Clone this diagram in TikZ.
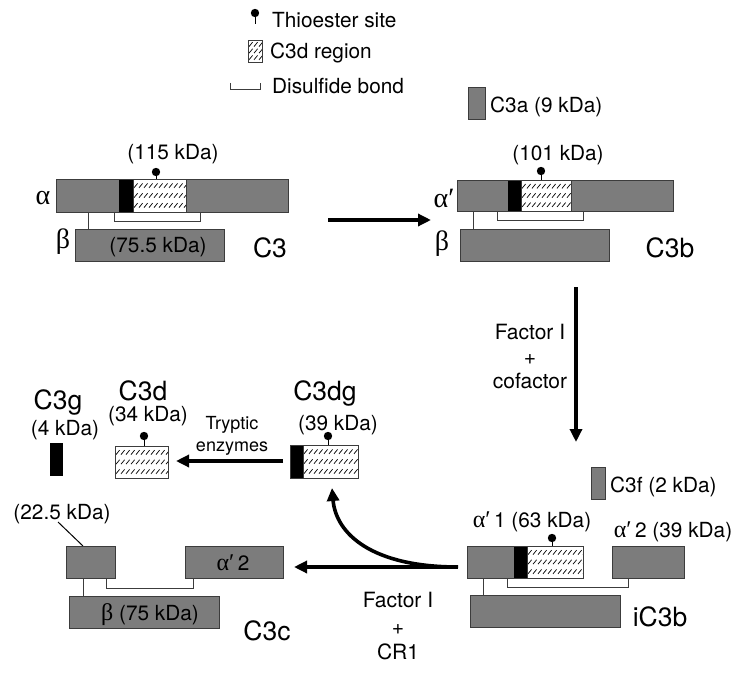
\documentclass[tikz,border=0pt]{standalone}
\usepackage{fontspec}
\setmainfont{TeX Gyre Heros}
\newfontfamily\grk{Liberation Serif}
\usetikzlibrary{arrows.meta}
\definecolor{boxgray}{RGB}{124,124,124}
\definecolor{edgegray}{RGB}{60,60,60}
\tikzset{
  boxln/.style={draw=edgegray, line width=0.9pt},
  gbox/.style={boxln, fill=boxgray},
  kbox/.style={draw=black, line width=0.9pt, fill=black},
  hatchln/.style={line width=0.7pt, black},
  bondln/.style={draw=edgegray, line width=0.9pt},
  pinln/.style={line width=0.9pt, black},
  bigarrow/.style={line width=3.6pt, -{Triangle[length=13pt,width=12pt]}},
  lbl/.style={font=\fontsize{20.8}{24}\selectfont, inner sep=0pt, text height=14.9pt, text depth=0pt},
  big/.style={font=\fontsize{26.5}{30}\selectfont, inner sep=0pt, text height=19pt, text depth=0pt},
  fac/.style={font=\fontsize{21}{25}\selectfont, inner sep=0pt, text height=15.1pt, text depth=0pt},
  tryp/.style={font=\fontsize{18}{22}\selectfont, inner sep=0pt, text height=12.9pt, text depth=0pt},
  grkl/.style={font=\grk\fontsize{28}{32}\selectfont, inner sep=0pt},
}
\newcommand{\gsym}[1]{{\grk\fontsize{24}{28}\selectfont #1}}
\newcommand{\hatchbox}[4]{%
  \fill[white] (#1,#2) rectangle (#3,#4);
  \begin{scope}
    \clip (#1,#2) rectangle (#3,#4);
    \pgfmathsetmacro{\hxa}{#1+1}
    \pgfmathsetmacro{\hxb}{#1+6}
    \pgfmathsetmacro{\hchH}{#4-#2}
    \foreach \rr in {0.2,0.5,0.8}{
      \pgfmathsetmacro{\hyy}{#2+\rr*\hchH+2.2}
      \foreach \xx in {\hxa,\hxb,...,#3}{
        \draw[hatchln] (\xx,\hyy) -- ++(3.6,-4.4);
      }
    }
  \end{scope}
  \draw[boxln] (#1,#2) rectangle (#3,#4);
}
\newcommand{\thiopin}[3]{%
  \draw[pinln] (#1,#3) -- (#1,#2);
  \fill[black] (#1,#2) circle (4.2pt);
}
\newcommand{\sbond}[4]{%
  \draw[bondln] (#1,#2) -- (#1,#4) -- (#3,#4) -- (#3,#2);
}
\begin{document}
\begin{tikzpicture}[x=1pt,y=-1pt]
\useasboundingbox (0,0) rectangle (747,677);
\fill[white] (0,0) rectangle (747,677);

% ---------- legend ----------
\thiopin{255}{13}{24}
\node[lbl, anchor=west] (lg1) at (272,20) {Thioester site};
\hatchbox{248}{40}{262}{62}
\node[lbl, anchor=west] (lg2) at (270,51) {C3d region};
\sbond{230}{83}{260}{89}
\node[lbl, anchor=west] (lg3) at (272,86) {Disulfide bond};

% ---------- C3 ----------
\draw[gbox] (56,179) rectangle (288,212);
\fill[black] (119,179) rectangle (133,212);
\hatchbox{133}{179}{186}{212}
\draw[boxln] (56,179) rectangle (288,212);
\thiopin{156}{172}{179}
\node[lbl] (c3m) at (173,152) {(115 kDa)};
\node[grkl] (c3al) at (43,198) {α};
\sbond{114}{212}{200}{221}
\draw[bondln] (88,212) -- (88,229);
\draw[gbox] (75,229) rectangle (224,261);
\node[grkl] (c3be) at (63,242) {β};
\node[lbl] (c3bm) at (158,245) {(75.5 kDa)};
\node[big] (c3) at (270,248) {C3};

% arrow C3 -> C3b
\coordinate (a1s) at (328,220);
\coordinate (a1e) at (431,220);
\draw[bigarrow] (a1s) -- (a1e);

% ---------- C3b ----------
\draw[gbox] (468,87) rectangle (485,119);
\node[lbl, anchor=west] (c3a) at (490,105) {C3a (9 kDa)};
\draw[gbox] (457,180) rectangle (673,211);
\fill[black] (508,180) rectangle (521,211);
\hatchbox{521}{180}{571}{211}
\draw[boxln] (457,180) rectangle (673,211);
\thiopin{541}{171}{180}
\node[lbl] (c3bmw) at (558,153) {(101 kDa)};
\node[grkl] (c3bal) at (444,198) {α′};
\sbond{497}{211}{583}{220}
\draw[bondln] (473,211) -- (473,229);
\draw[gbox] (460,229) rectangle (609,261);
\node[grkl] (c3bbe) at (442,244) {β};
\node[big] (c3b) at (670,248) {C3b};

% arrow C3b -> iC3b
\coordinate (a2s) at (576,287);
\coordinate (a2e) at (576,442);
\draw[bigarrow] (a2s) -- (a2e);
\node[fac] (f1a) at (530,332) {Factor I};
\node[fac] (f1b) at (530,357) {+};
\node[fac] (f1c) at (530,381) {cofactor};

% ---------- iC3b ----------
\draw[gbox] (591,467) rectangle (605,499);
\node[lbl, anchor=west] (c3f) at (610,485) {C3f (2 kDa)};
\node[lbl] (a1lab) at (532,520) {\gsym{α′}\,1 (63 kDa)};
\node[lbl] (a2lab) at (673,530) {\gsym{α′}\,2 (39 kDa)};
\draw[gbox] (467,546) rectangle (583,578);
\fill[black] (514,546) rectangle (527,578);
\hatchbox{527}{546}{583}{578}
\draw[boxln] (467,546) rectangle (583,578);
\thiopin{552}{538}{546}
\draw[gbox] (612,546) rectangle (684,578);
\sbond{507}{578}{628}{587}
\draw[bondln] (483,578) -- (483,595);
\draw[gbox] (470,595) rectangle (620,627);
\node[big] (ic3b) at (660,617) {iC3b};

% arrows from iC3b
\coordinate (a3s) at (458,567);
\coordinate (a3e) at (294,567);
\coordinate (a4e) at (332,488);
\draw[bigarrow] (a3s) -- (a3e);
\draw[bigarrow] (a3s) .. controls (372,567) and (336,534) .. (a4e);
\node[fac] (f2a) at (398,600) {Factor I};
\node[fac] (f2b) at (398,627) {+};
\node[fac] (f2c) at (398,652) {CR1};

% ---------- C3c ----------
\node[lbl] (c3cm) at (62,512) {(22.5 kDa)};
\coordinate (lead) at (83,546);
\draw[line width=1pt] (58,522) -- (lead);
\draw[gbox] (66,546) rectangle (115,578);
\draw[gbox] (185,546) rectangle (283,578);
\node[lbl] (c3ca2) at (233,563) {\gsym{α′}\,2};
\sbond{106}{578}{193}{588}
\draw[bondln] (83,578) -- (83,596);
\draw[gbox] (69,596) rectangle (219,628);
\node[lbl] (c3cb) at (150,613) {\gsym{β} (75 kDa)};
\node[big] (c3c) at (267,631) {C3c};

% ---------- C3g, C3d, C3dg ----------
\node[big] (c3g) at (58,400) {C3g};
\node[lbl] (c3gm) at (65,428) {(4 kDa)};
\fill[black] (50,443) rectangle (63,476);

\node[big] (c3d) at (143,391) {C3d};
\node[lbl] (c3dm) at (148,414) {(34 kDa)};
\hatchbox{115}{446}{168}{478}
\thiopin{144}{436}{446}

\node[tryp] (tr1) at (232,423) {Tryptic};
\node[tryp] (tr2) at (232,445) {enzymes};
\coordinate (a5s) at (283,461);
\coordinate (a5e) at (176,461);
\draw[bigarrow] (a5s) -- (a5e);

\node[big] (c3dg) at (325,391) {C3dg};
\node[lbl] (c3dgm) at (338,423) {(39 kDa)};
\fill[black] (290,445) rectangle (303,478);
\hatchbox{303}{445}{358}{478}
\draw[boxln] (290,445) rectangle (358,478);
\thiopin{328}{436}{445}
\end{tikzpicture}
\end{document}
